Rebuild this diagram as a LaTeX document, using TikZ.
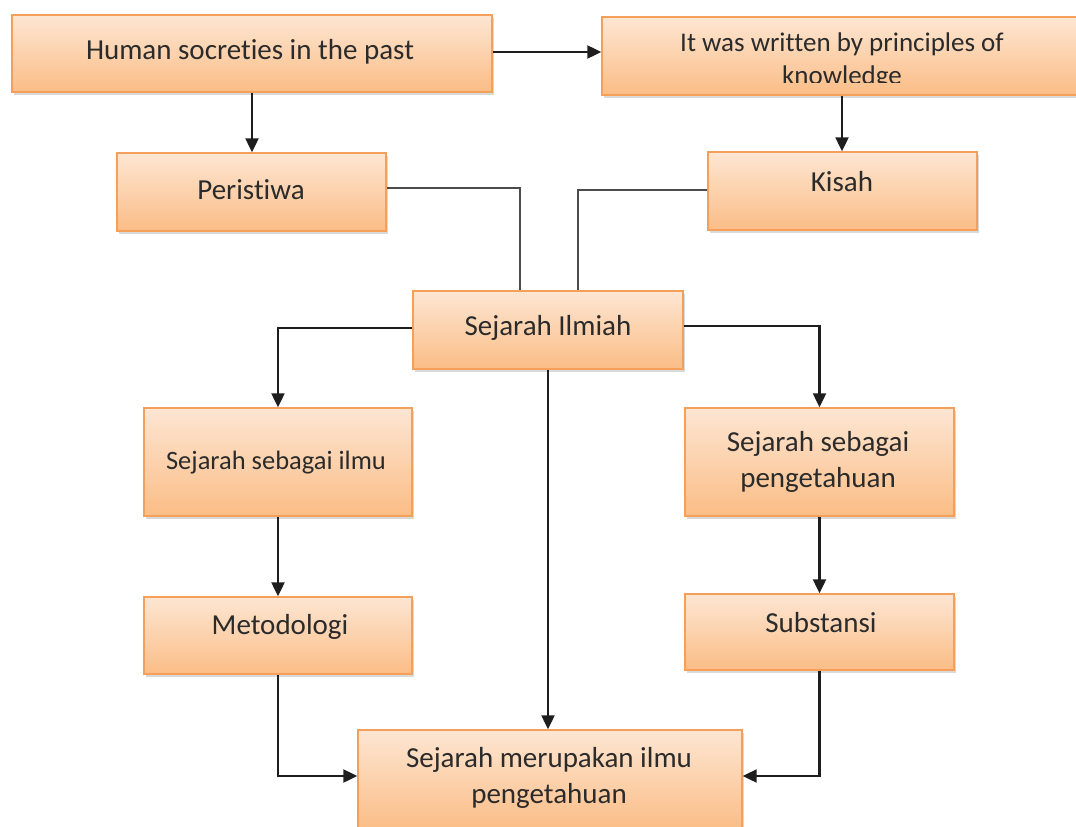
\documentclass[tikz,border=0pt]{standalone}
\usepackage{fontspec}
\setmainfont{Carlito}[Ligatures=NoCommon]
\usetikzlibrary{arrows.meta,shadows}
\definecolor{boxtop}{HTML}{FDE6D3}
\definecolor{boxbot}{HTML}{FBBD86}
\definecolor{boxline}{HTML}{F5A05A}
\definecolor{lncol}{HTML}{1E1E1E}
\definecolor{txtcol}{HTML}{2B2B2B}
\tikzset{
  box/.style={draw=boxline, line width=1.4pt, top color=boxtop, bottom color=boxbot,
    drop shadow={shadow xshift=1.5pt, shadow yshift=-3pt, opacity=0.25, fill=black!60},
    inner sep=0pt, align=center},
  lbl/.style={font=\fontsize{29}{36}\selectfont, align=center, text=txtcol, inner sep=0pt},
  arr/.style={draw=lncol, line width=2.2pt, -{Triangle[length=14pt,width=13pt]}},
  plain/.style={draw=black!70, line width=1.8pt},
}
\begin{document}
\begin{tikzpicture}[x=1pt,y=-1pt]
\useasboundingbox (0,0) rectangle (1076,827);
\begin{scope}
\clip (0,0) rectangle (1076,827);
% boxes
\node[box, minimum width=480, minimum height=77] (human) at (252,53.5) {};
\node[box, minimum width=480, minimum height=78] (written) at (842,56) {};
\node[box, minimum width=269, minimum height=78] (peristiwa) at (251.5,192) {};
\node[box, minimum width=269, minimum height=78] (kisah) at (842.5,191) {};
\node[box, minimum width=270, minimum height=78] (ilmiah) at (548,330) {};
\node[box, minimum width=268, minimum height=108] (ilmu) at (278,462) {};
\node[box, minimum width=269, minimum height=108] (peng) at (819.5,462) {};
\node[box, minimum width=268, minimum height=77] (metod) at (278,635.5) {};
\node[box, minimum width=269, minimum height=76] (subst) at (819.5,632) {};
\node[box, minimum width=384, minimum height=100] (merup) at (550,780) {};
% texts
\node[lbl] (humant) at (250,52) {Human socreties in the past};
\begin{scope}
\clip (602,17) rectangle (1082,82);
\node[lbl, font=\fontsize{27}{33}\selectfont] (writtent) at (842,61) {It was written by principles of\\knowledge};
\end{scope}
\node[lbl] (peristiwat) at (251,190) {Peristiwa};
\node[lbl] (kisaht) at (842,182) {Kisah};
\node[lbl] (ilmiaht) at (548,328) {Sejarah Ilmiah};
\node[lbl, font=\fontsize{26.5}{33}\selectfont] (ilmut) at (276,463) {Sejarah sebagai ilmu};
\node[lbl] (pengt) at (818,462) {Sejarah sebagai\\pengetahuan};
\node[lbl] (metodt) at (280,627) {Metodologi};
\node[lbl] (substt) at (821,623) {Substansi};
\node[lbl] (merupt) at (549,778) {Sejarah merupakan ilmu\\pengetahuan};
% connectors
\draw[arr] (human.east |- 0,52) -- (written.west |- 0,52);
\draw[arr] (human.south) -- (peristiwa.north -| human.south);
\draw[arr] (written.south) -- (kisah.north -| written.south);
\draw[plain] (peristiwa.east |- 0,188) -| ([xshift=-28pt]ilmiah.north);
\draw[plain] (kisah.west |- 0,190) -| ([xshift=30pt]ilmiah.north);
\draw[arr] (ilmiah.west |- 0,328) -| (ilmu.north);
\draw[arr] (ilmiah.east |- 0,326) -| (peng.north);
\draw[arr] (ilmiah.south) -- (ilmiah.south |- merup.north);
\draw[arr] (ilmu.south) -- (metod.north);
\draw[arr] (peng.south) -- (subst.north);
\draw[arr] (metod.south) |- (merup.west |- 0,776);
\draw[arr] (subst.south) |- (merup.east |- 0,776);
\end{scope}
\end{tikzpicture}
\end{document}
